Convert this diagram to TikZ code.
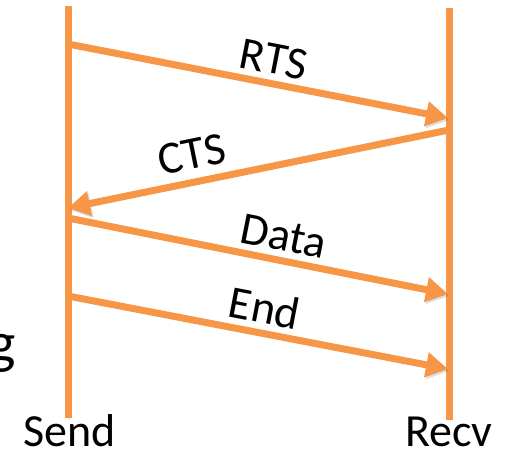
\documentclass[tikz,border=0pt]{standalone}
\usepackage{fontspec}
\setmainfont{Carlito}
\usetikzlibrary{arrows.meta}
\definecolor{msgorange}{RGB}{247,150,70}
\begin{document}
\begin{tikzpicture}[x=1pt,y=-1pt,
  softshadow/.style={preaction={draw=black, draw opacity=0.12, transform canvas={shift={(1.5pt,-2pt)}}}},
  lifeline/.style={draw=msgorange, line width=7pt, softshadow},
  msg/.style={draw=msgorange, line width=7pt, softshadow, -{Triangle[length=22pt,width=24pt]}},
  msglabel/.style={font=\fontsize{46}{52}\selectfont, sloped, above, inner sep=0pt},
  party/.style={font=\fontsize{46}{52}\selectfont, inner sep=0pt}]
\useasboundingbox (0,0) rectangle (512,450);

% party names and the partial word on the left
\node[party, anchor=base] (send) at (70,446) {Send};
\node[party, anchor=base] (recv) at (449,446) {Recv};
\node[font=\fontsize{58}{60}\selectfont, anchor=base east, inner sep=0pt] (gl) at (16,362) {g};

% lifelines
\coordinate (sendtop) at (68,6);
\coordinate (sendbot) at (68,418);
\coordinate (recvtop) at (449,8);
\coordinate (recvbot) at (449,420);
\draw[lifeline] (sendtop) -- (sendbot);
\draw[lifeline] (recvtop) -- (recvbot);

% message endpoints
\coordinate (rtsA) at (68,44);   \coordinate (rtsB) at (448,118);
\coordinate (ctsA) at (449,130); \coordinate (ctsB) at (68,208);
\coordinate (datA) at (68,218);  \coordinate (datB) at (448,294);
\coordinate (endA) at (68,296);  \coordinate (endB) at (448,369);

\draw[msg] (rtsA) -- node[msglabel, pos=0.53, yshift=6pt] (rts) {RTS} (rtsB);
\draw[msg] (ctsA) -- node[msglabel, pos=0.66, yshift=9pt] (cts) {CTS} (ctsB);
\draw[msg] (datA) -- node[msglabel, pos=0.555, yshift=6pt] (dat) {Data} (datB);
\draw[msg] (endA) -- node[msglabel, pos=0.505, yshift=6pt] (fin) {End} (endB);
\end{tikzpicture}
\end{document}
